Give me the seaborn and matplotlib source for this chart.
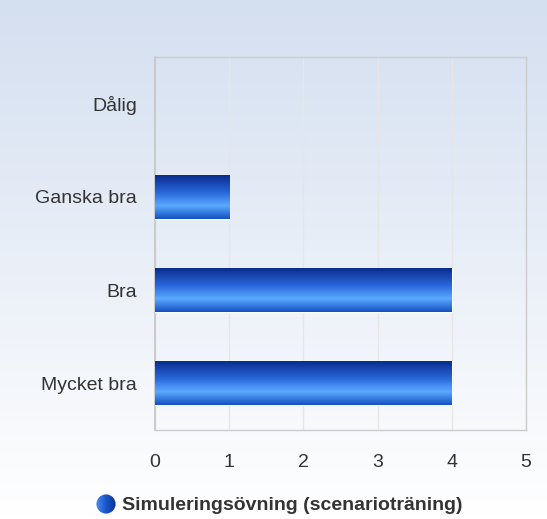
import numpy as np
import pandas as pd
import matplotlib
matplotlib.use("Agg")
import matplotlib.pyplot as plt
import seaborn as sns
from matplotlib.colors import LinearSegmentedColormap
from matplotlib.patches import Circle

# Data
categories = ["Dålig", "Ganska bra", "Bra", "Mycket bra"]
values = [0, 1, 4, 4]
series_name = "Simuleringsövning (scenarioträning)"
x_ticks = [0, 1, 2, 3, 4, 5]

df = pd.DataFrame({"kategori": categories, "antal": values})

sns.set_theme(style="white")
plt.rcParams["font.family"] = ["Liberation Sans", "DejaVu Sans"]

fig = plt.figure(figsize=(5.47, 5.19), dpi=100)

# background gradient
bg = fig.add_axes([0, 0, 1, 1], zorder=-10)
bg_cmap = LinearSegmentedColormap.from_list("bg", ["#d4dff0", "#ffffff"])
bg.imshow(np.linspace(0, 1, 256).reshape(-1, 1), aspect="auto", cmap=bg_cmap,
          extent=(0, 1, 0, 1), origin="upper")
bg.axis("off")

ax = fig.add_axes([0.2834, 0.1715, 0.678, 0.7187])
ax.patch.set_alpha(0)

sns.barplot(data=df, x="antal", y="kategori", orient="h", width=0.47,
            color="#2a66d0", ax=ax, zorder=3)

bar_cmap = LinearSegmentedColormap.from_list(
    "bar", [(0, "#0a2c8c"), (0.4, "#2a68dc"), (0.7, "#5aa9ff"), (1, "#1550c2")])
grad = np.linspace(0, 1, 128).reshape(-1, 1)
for p in ax.patches:
    x0, y0, w, h = p.get_x(), p.get_y(), p.get_width(), p.get_height()
    if w <= 0:
        p.set_visible(False)
        continue
    p.set_facecolor("none")
    p.set_edgecolor("white")
    p.set_linewidth(1)
    im = ax.imshow(grad, aspect="auto", cmap=bar_cmap, origin="upper",
                   extent=(x0, x0 + w, y0 + h, y0), zorder=3)
    im.set_clip_path(p)

ax.set_xlim(0, 5)
ax.set_ylim(3.5, -0.5)
ax.set_xticks(x_ticks)
ax.set_xticklabels([str(t) for t in x_ticks])
ax.xaxis.grid(True, color="#e6e6e6", linewidth=1, zorder=0)
ax.yaxis.grid(False)
ax.set_axisbelow(True)
ax.set_xlabel("")
ax.set_ylabel("")
for s in ["top", "right", "bottom"]:
    ax.spines[s].set_color("#cccccc")
    ax.spines[s].set_linewidth(1)
ax.spines["left"].set_color("#c4c4c4")
ax.spines["left"].set_linewidth(1.2)
ax.tick_params(axis="both", length=0, labelsize=14, colors="#333333")
ax.tick_params(axis="x", pad=17)
ax.tick_params(axis="y", pad=13)

# legend with gradient circle
lg = fig.add_axes([(106 - 10) / 547, 1 - (504 + 10) / 519, 20 / 547, 20 / 519])
lg.set_xlim(0, 1)
lg.set_ylim(0, 1)
lg.axis("off")
leg_cmap = LinearSegmentedColormap.from_list("leg", ["#4a8cf0", "#1a55c8", "#0a3496"])
cim = lg.imshow(np.linspace(0, 1, 64).reshape(1, -1), aspect="auto", cmap=leg_cmap,
                extent=(0, 1, 0, 1))
circ = Circle((0.5, 0.5), 0.48, transform=lg.transData, facecolor="none", edgecolor="none")
lg.add_patch(circ)
cim.set_clip_path(circ)
fig.text(122 / 547, 1 - 505 / 519, series_name, fontsize=14, fontweight="bold",
         color="#333333", va="center", ha="left")

fig.savefig("out.png", dpi=100)
